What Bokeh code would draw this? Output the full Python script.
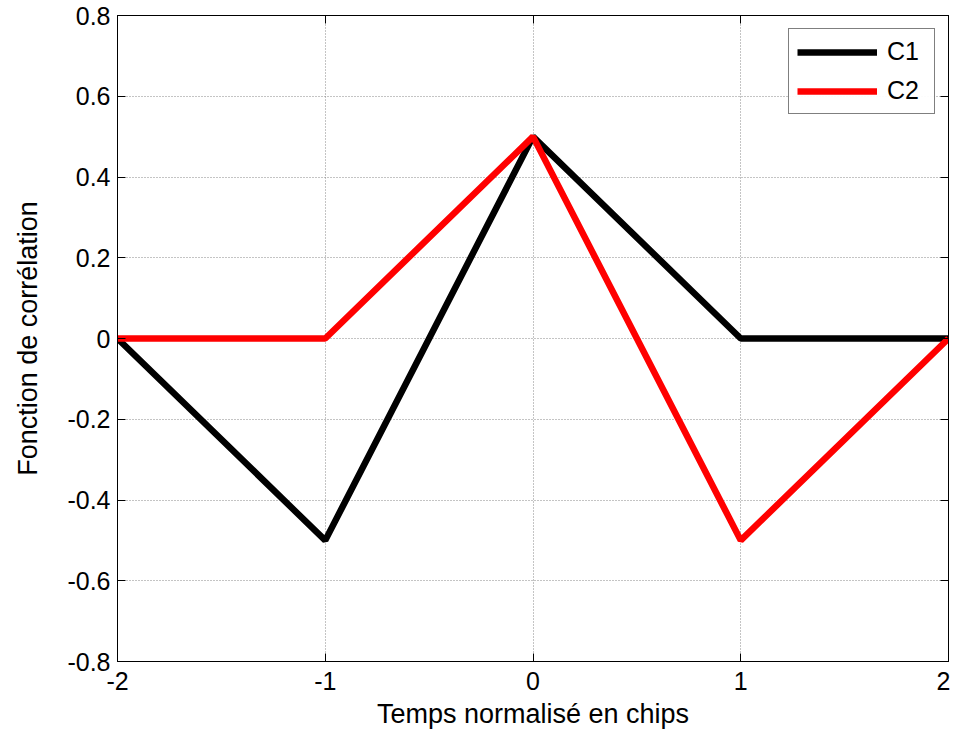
from bokeh.plotting import figure
from bokeh.models import LinearAxis, FixedTicker, Range1d, Legend, LegendItem
from bokeh.embed import file_html
from bokeh.resources import INLINE

t = [-2, -1, 0, 1, 2]
c1 = [0, -0.5, 0.5, 0, 0]
c2 = [0, 0, 0.5, -0.5, 0]
xticks = [-2, -1, 0, 1, 2]
xlabels = {-2: "-2", -1: "-1", 0: "0", 1: "1", 2: "2"}
yticks = [-0.8, -0.6, -0.4, -0.2, 0, 0.2, 0.4, 0.6, 0.8]
ylabels = {-0.8: "-0.8", -0.6: "-0.6", -0.4: "-0.4", -0.2: "-0.2", 0: "0",
           0.2: "0.2", 0.4: "0.4", 0.6: "0.6", 0.8: "0.8"}

FONT = "Liberation Sans"
FS = "25px"
LFS = "27px"

p = figure(width=950, height=731, output_backend="svg", toolbar_location=None,
           x_range=Range1d(-2, 2), y_range=Range1d(-0.8, 0.8),
           min_border_left=117, min_border_top=15, min_border_right=2, min_border_bottom=69)

l1 = p.line(t, c1, line_color="black", line_width=6.5)
l2 = p.line(t, c2, line_color="#ff0000", line_width=6.5)

for ax in (p.xaxis[0], p.yaxis[0]):
    ax.major_label_text_font = FONT
    ax.major_label_text_font_size = FS
    ax.major_label_text_color = "black"
    ax.axis_label_text_font = FONT
    ax.axis_label_text_font_size = LFS
    ax.axis_label_text_font_style = "normal"
    ax.axis_label_text_color = "black"
    ax.axis_line_color = "black"
    ax.major_tick_in = 8
    ax.major_tick_out = 0
    ax.minor_tick_line_color = None
    ax.major_tick_line_color = "black"

p.xaxis[0].ticker = FixedTicker(ticks=xticks)
p.yaxis[0].ticker = FixedTicker(ticks=yticks)
p.xaxis[0].major_label_overrides = dict(xlabels)
p.yaxis[0].major_label_overrides = dict(ylabels)
p.xaxis[0].axis_label = "Temps normalisé en chips"
p.yaxis[0].axis_label = "Fonction de corrélation"
p.xaxis[0].major_label_standoff = 10
p.yaxis[0].major_label_standoff = 7
p.xaxis[0].axis_label_standoff = 6
p.yaxis[0].axis_label_standoff = 21

for loc, tk in (("right", yticks), ("above", xticks)):
    ax = LinearAxis(ticker=FixedTicker(ticks=tk), major_label_text_font_size="0px",
                    major_tick_in=8, major_tick_out=0, minor_tick_line_color=None,
                    axis_line_color="black", major_label_standoff=0)
    ax.major_label_text_color = None
    p.add_layout(ax, loc)

p.xgrid.ticker = FixedTicker(ticks=xticks)
p.ygrid.ticker = FixedTicker(ticks=yticks)
for g in (p.xgrid[0], p.ygrid[0]):
    g.grid_line_color = "#888888"
    g.grid_line_dash = "1 2"
    g.grid_line_width = 1

p.outline_line_color = "black"
p.outline_line_width = 1
p.background_fill_color = "white"
p.border_fill_color = "white"

legend = Legend(items=[LegendItem(label="C1", renderers=[l1]),
                       LegendItem(label="C2", renderers=[l2])],
                location="top_right", label_text_font=FONT, label_text_font_size=FS,
                label_text_color="black",
                border_line_color="black", border_line_width=1.5,
                glyph_width=80, glyph_height=22, spacing=10, padding=8,
                label_width=39, margin=13, label_standoff=10)
p.add_layout(legend)

open("out.html", "w").write(file_html(p, INLINE))
